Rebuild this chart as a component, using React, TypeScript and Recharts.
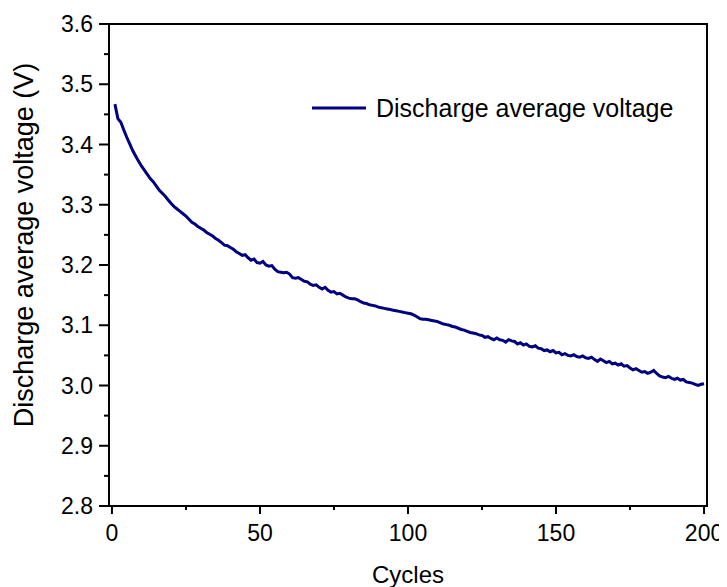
import React from 'react';
import { LineChart, Line, XAxis, YAxis, ReferenceArea, Legend, Label } from 'recharts';

const cycles: number[] = Array.from({ length: 200 }, (_, i) => i + 1);

const voltage: number[] = [
  3.467, 3.443, 3.437, 3.424, 3.412, 3.401, 3.390, 3.381, 3.372, 3.364,
  3.357, 3.350, 3.343, 3.338, 3.331, 3.324, 3.319, 3.314, 3.308, 3.302,
  3.297, 3.293, 3.289, 3.285, 3.281, 3.276, 3.271, 3.268, 3.264, 3.261,
  3.258, 3.254, 3.251, 3.248, 3.244, 3.241, 3.237, 3.233, 3.232, 3.229,
  3.226, 3.222, 3.219, 3.216, 3.217, 3.212, 3.208, 3.210, 3.204, 3.203,
  3.206, 3.200, 3.198, 3.199, 3.193, 3.189, 3.188, 3.187, 3.188, 3.185,
  3.179, 3.178, 3.179, 3.176, 3.173, 3.172, 3.168, 3.166, 3.167, 3.163,
  3.160, 3.163, 3.158, 3.155, 3.156, 3.152, 3.153, 3.150, 3.147, 3.145,
  3.144, 3.144, 3.142, 3.139, 3.137, 3.136, 3.134, 3.133, 3.132, 3.130,
  3.129, 3.128, 3.127, 3.126, 3.125, 3.124, 3.123, 3.122, 3.121, 3.120,
  3.119, 3.117, 3.114, 3.111, 3.110, 3.110, 3.109, 3.108, 3.107, 3.106,
  3.104, 3.102, 3.101, 3.100, 3.098, 3.097, 3.095, 3.093, 3.092, 3.090,
  3.088, 3.087, 3.086, 3.084, 3.083, 3.080, 3.081, 3.078, 3.076, 3.079,
  3.076, 3.075, 3.072, 3.076, 3.074, 3.073, 3.069, 3.071, 3.067, 3.069,
  3.065, 3.064, 3.066, 3.062, 3.061, 3.058, 3.059, 3.056, 3.058, 3.054,
  3.055, 3.051, 3.053, 3.050, 3.049, 3.051, 3.048, 3.047, 3.049, 3.046,
  3.045, 3.047, 3.043, 3.040, 3.044, 3.041, 3.038, 3.040, 3.036, 3.037,
  3.034, 3.036, 3.032, 3.033, 3.029, 3.026, 3.028, 3.025, 3.022, 3.023,
  3.020, 3.022, 3.025, 3.020, 3.016, 3.014, 3.013, 3.015, 3.012, 3.010,
  3.012, 3.009, 3.010, 3.006, 3.005, 3.004, 3.002, 3.000, 3.002, 3.003,
];

const xTicks: number[] = [0, 25, 50, 75, 100, 125, 150, 175, 200];
const yTicks: number[] = [2.8, 2.85, 2.9, 2.95, 3.0, 3.05, 3.1, 3.15, 3.2, 3.25, 3.3, 3.35, 3.4, 3.45, 3.5, 3.55, 3.6];

const seriesName = 'Discharge average voltage';
const xTitle = 'Cycles';
const yTitle = 'Discharge average voltage (V)';

const data = cycles.map((c, i) => ({ cycle: c, v: voltage[i] }));

const FONT = '"Liberation Sans", Arial, sans-serif';
const LINE_COLOR = '#000080';

const XTick = (props: any) => {
  const { x, y, payload } = props;
  const v = payload.value;
  const major = v % 50 === 0;
  return (
    <g>
      <line x1={x} x2={x} y1={y} y2={y + (major ? 8 : 4)} stroke="#000" strokeWidth={2} />
      {major && (
        <text x={x} y={y + 35} textAnchor="middle" fontSize={23} fontFamily={FONT} fill="#000">
          {v}
        </text>
      )}
    </g>
  );
};

const YTick = (props: any) => {
  const { x, y, payload } = props;
  const v = payload.value;
  const major = Math.round(v * 100) % 10 === 0;
  return (
    <g>
      <line x1={x - (major ? 10 : 5)} x2={x} y1={y} y2={y} stroke="#000" strokeWidth={2} />
      {major && (
        <text x={x - 16} y={y} textAnchor="end" dominantBaseline="central" fontSize={23} fontFamily={FONT} fill="#000">
          {v.toFixed(1)}
        </text>
      )}
    </g>
  );
};

const LegendContent = (props: any) => {
  const p = (props.payload && props.payload[0]) || { value: seriesName, color: LINE_COLOR };
  return (
    <svg width={420} height={40} style={{ display: 'block' }}>
      <line x1={8} x2={62} y1={20} y2={20} stroke={p.color || LINE_COLOR} strokeWidth={3} />
      <text x={72} y={20} dominantBaseline="central" fontSize={25} fontFamily={FONT} fill="#000">
        {p.value}
      </text>
    </svg>
  );
};

export default function App() {
  return (
    <div style={{ width: 719, height: 579 }}>
      <LineChart width={719} height={579} data={data} margin={{ top: 16, right: 20, bottom: 0, left: 0 }}>
        <XAxis
          dataKey="cycle"
          type="number"
          domain={[-1, 201]}
          ticks={xTicks}
          interval={0}
          allowDataOverflow
          height={81}
          tickSize={0}
          tickMargin={0}
          tickLine={false}
          axisLine={{ stroke: '#000', strokeWidth: 2 }}
          tick={<XTick />}
        >
          <Label
            content={(p: any) => {
              const vb = p.viewBox || {};
              return (
                <text x={vb.x + vb.width / 2} y={vb.y + 77} textAnchor="middle" fontSize={24} fontFamily={FONT} fill="#000">
                  {xTitle}
                </text>
              );
            }}
          />
        </XAxis>
        <YAxis
          type="number"
          domain={[2.8, 3.6]}
          ticks={yTicks}
          interval={0}
          allowDataOverflow
          width={101}
          tickSize={0}
          tickMargin={0}
          tickLine={false}
          axisLine={{ stroke: '#000', strokeWidth: 2 }}
          tick={<YTick />}
        >
          <Label
            content={() => (
              <text
                x={16}
                y={237}
                transform="rotate(-90 16 237)"
                textAnchor="middle"
                dominantBaseline="central"
                fontSize={27}
                fontFamily={FONT}
                fill="#000"
              >
                {yTitle}
              </text>
            )}
          />
        </YAxis>
        <ReferenceArea x1={-1} x2={201} y1={2.8} y2={3.6} fill="none" stroke="#000" strokeWidth={2} ifOverflow="visible" />
        <Legend
          layout="horizontal"
          verticalAlign="middle"
          align="center"
          content={<LegendContent />}
          wrapperStyle={{ position: 'absolute', left: 296, top: 80, width: 420, height: 40 }}
        />
        <Line
          type="linear"
          dataKey="v"
          name={seriesName}
          stroke={LINE_COLOR}
          strokeWidth={3}
          dot={false}
          isAnimationActive={false}
        />
      </LineChart>
    </div>
  );
}
